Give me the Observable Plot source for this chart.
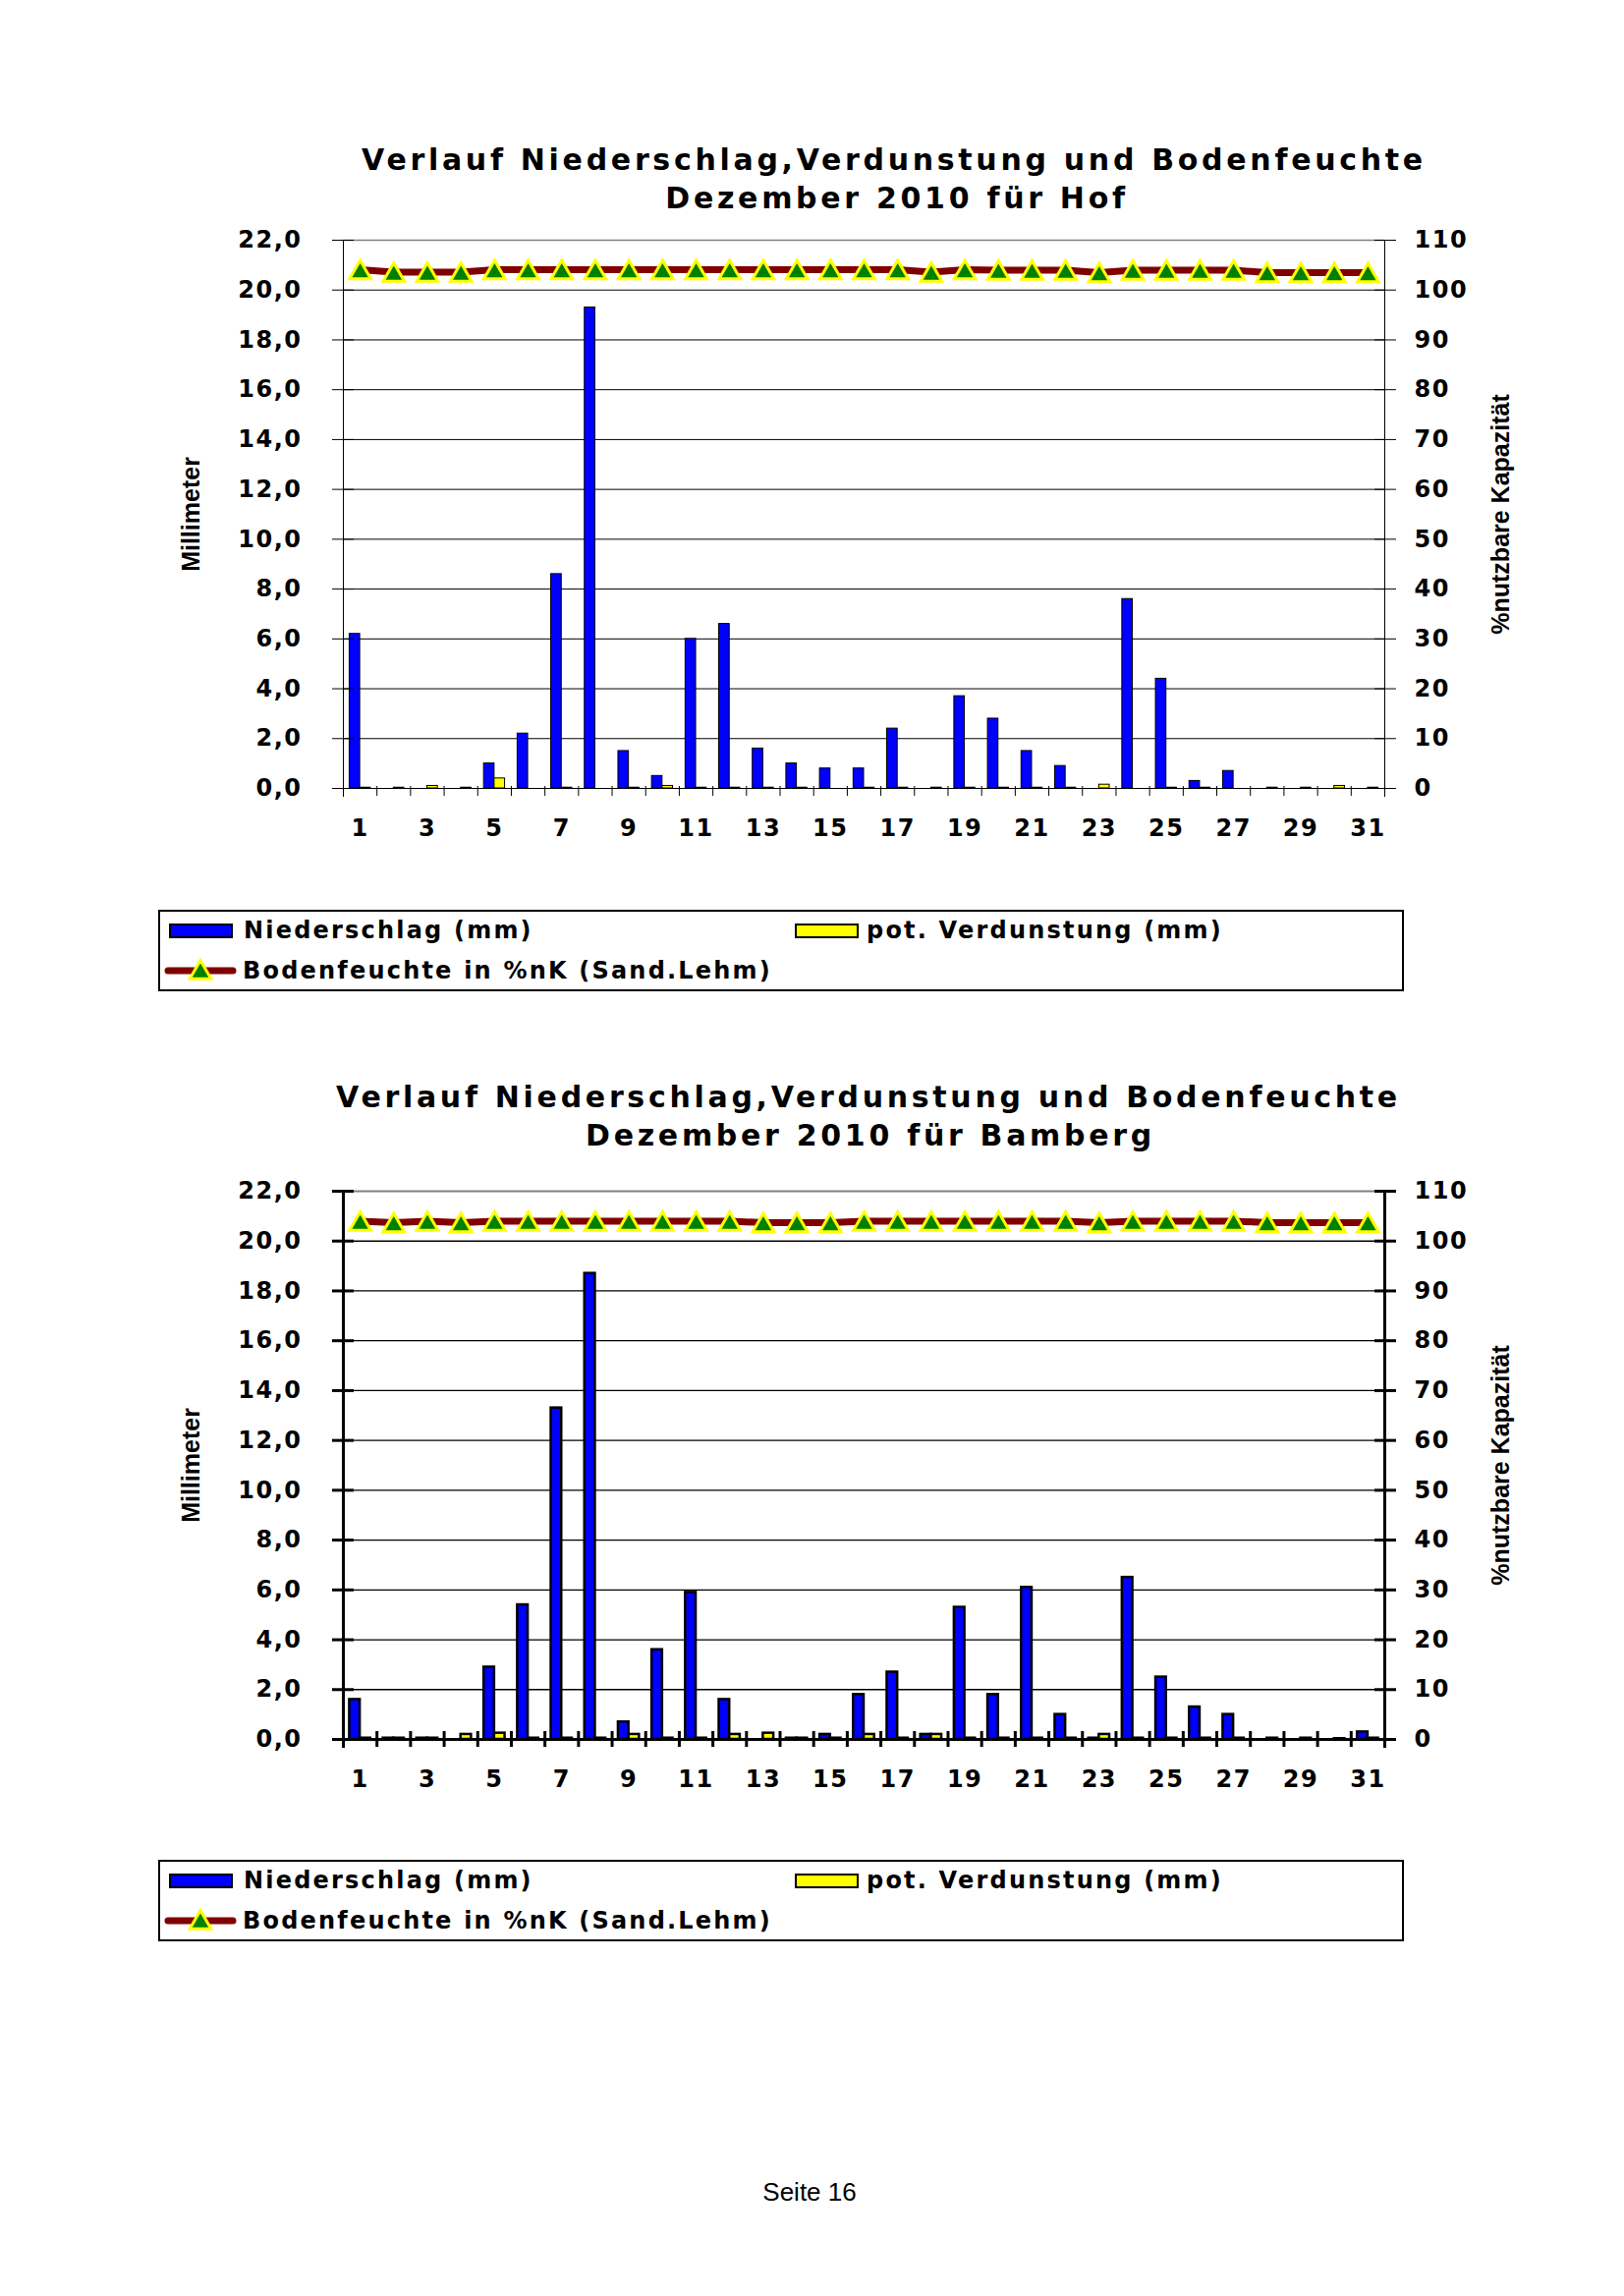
<!DOCTYPE html>
<html>
<head>
<meta charset="utf-8">
<script src="https://cdn.jsdelivr.net/npm/d3@7"></script>
<script src="https://cdn.jsdelivr.net/npm/@observablehq/plot@0.6"></script>
<style>
  html, body { margin: 0; padding: 0; background: #fff; }
  #page { position: relative; width: 1653px; height: 2337px; background: #fff; overflow: hidden; }
  .title { position: absolute; z-index: 2; font-family: "DejaVu Sans", sans-serif; font-weight: bold; font-size: 30px; letter-spacing: 3.7px; white-space: nowrap; transform: translate(-50%, -50%); color: #000; }
  .chart { position: absolute; left: 0; z-index: 1; }
  .legend { position: absolute; left: 161px; width: 1268px; height: 83px; border: 2px solid #000; box-sizing: border-box; background: #fff; }
  .lg-text { position: absolute; height: 30px; line-height: 30px; font-family: "DejaVu Sans", sans-serif; font-weight: bold; font-size: 24px; letter-spacing: 2.2px; white-space: nowrap; color: #000; }
  .lg-swatch { position: absolute; width: 65px; height: 15px; border: 2px solid #000; box-sizing: border-box; }
  .lg-line { position: absolute; }
  #footer { position: absolute; left: 824px; top: 2231px; transform: translate(-50%, -50%); font-family: "Liberation Sans", Arial, sans-serif; font-size: 26px; color: #000; }
  svg g[aria-label$="tick label"] text { letter-spacing: 1.5px; }
</style>
</head>
<body>
<div id="page"></div>
<script>
// ---------------- data ----------------
const days = [1,2,3,4,5,6,7,8,9,10,11,12,13,14,15,16,17,18,19,20,21,22,23,24,25,26,27,28,29,30,31];
const xLabelDays = [1,3,5,7,9,11,13,15,17,19,21,23,25,27,29,31];
const yTicksMm = [0,2,4,6,8,10,12,14,16,18,20,22];
const gridMm = [2,4,6,8,10,12,14,16,18,20];
const seriesNames = ["Niederschlag (mm)", "pot. Verdunstung (mm)", "Bodenfeuchte in %nK (Sand.Lehm)"];
const titleLine1 = "Verlauf Niederschlag,Verdunstung und Bodenfeuchte";
const titleHof = "Dezember 2010 für Hof";
const titleBamberg = "Dezember 2010 für Bamberg";
const leftAxisTitle = "Millimeter";
const rightAxisTitle = "%nutzbare Kapazität";
const footerText = "Seite 16";

// Hof
const hofNiederschlag = [6.2,0,0,0,1.0,2.2,8.6,19.3,1.5,0.5,6.0,6.6,1.6,1.0,0.8,0.8,2.4,0,3.7,2.8,1.5,0.9,0,7.6,4.4,0.3,0.7,0,0,0,0];
const hofVerdunstung = [0.03,0.03,0.1,0.03,0.4,0,0.03,0,0.03,0.1,0.03,0.03,0.03,0.03,0,0.03,0.03,0.03,0.03,0.03,0.03,0.03,0.15,0,0.03,0.03,0,0.03,0.03,0.1,0.03];
const hofBodenfeuchte = [104.1,103.6,103.6,103.6,104.1,104.1,104.1,104.1,104.1,104.1,104.1,104.1,104.1,104.1,104.1,104.1,104.1,103.6,104.1,104.0,104.0,104.0,103.5,104.0,104.0,104.0,104.0,103.5,103.5,103.5,103.5];

// Bamberg
const bambergNiederschlag = [1.6,0.05,0.05,0,2.9,5.4,13.3,18.7,0.7,3.6,5.9,1.6,0,0.05,0.2,1.8,2.7,0.2,5.3,1.8,6.1,1.0,0.05,6.5,2.5,1.3,1.0,0,0,0,0.3];
const bambergVerdunstung = [0.05,0.05,0.05,0.2,0.25,0.05,0.05,0.05,0.2,0.05,0.05,0.2,0.25,0.05,0.05,0.2,0.05,0.2,0.05,0.05,0.05,0.05,0.2,0.05,0.05,0.05,0.05,0.05,0.05,0.03,0.05];
const bambergBodenfeuchte = [104.0,103.7,104.0,103.7,104.0,104.0,104.0,104.0,104.0,104.0,104.0,104.0,103.7,103.7,103.7,104.0,104.0,104.0,104.0,104.0,104.0,104.0,103.7,104.0,104.0,104.0,104.0,103.7,103.7,103.7,103.7];

const colors = {prec: "#0000ff", verd: "#ffff00", line: "#800000", marker: "#008000", markerStroke: "#ffff00"};

// ---------------- page ----------------
const page = document.getElementById("page");

function addDiv(cls, text, style) {
  const el = document.createElement("div");
  el.className = cls;
  if (text != null) el.textContent = text;
  Object.assign(el.style, style || {});
  page.appendChild(el);
  return el;
}

function makeChart(prec, verd, soil, bold) {
  const data = days.map((d, i) => ({day: d, prec: prec[i], verd: verd[i], soil: soil[i]}));
  const W = 1653, ml = 349, mr = 244, H = 672, mt = 44, mb = 70;
  const bw = (W - ml - mr) / days.length;
  const half = bw / 2;
  const sw = bold ? 2.5 : 1;
  const aw = bold ? 3 : 1;
  const boundaries = days.map(d => d + 0.5);
  const marks = [
    Plot.ruleY(gridMm, {stroke: "#000", strokeWidth: bold ? 1.3 : 1}),
    Plot.ruleY([22], {stroke: "#808080", strokeWidth: bold ? 2 : 1.3}),
    Plot.rect(data, {x1: d => d.day - 0.5, x2: d => d.day + 0.5, y1: 0, y2: d => d.prec,
      fill: colors.prec, stroke: "#000", strokeWidth: sw, insetLeft: 6.4, insetRight: half}),
    Plot.rect(data, {x1: d => d.day - 0.5, x2: d => d.day + 0.5, y1: 0, y2: d => d.verd,
      fill: colors.verd, stroke: "#000", strokeWidth: sw, insetLeft: half, insetRight: 6.4}),
    Plot.ruleY([0], {stroke: "#000", strokeWidth: aw}),
    Plot.ruleX([0.5, 31.5], {stroke: "#000", strokeWidth: aw, insetBottom: -9}),
    // axes
    Plot.axisY({anchor: "left", ticks: yTicksMm, tickSize: 11, tickPadding: 31, strokeWidth: aw,
      tickFormat: d => d.toFixed(1).replace(".", ","), label: null}),
    Plot.axisY({anchor: "left", ticks: yTicksMm, tickSize: -11, strokeWidth: aw, tickFormat: () => "", label: null}),
    Plot.axisY({anchor: "right", ticks: yTicksMm, tickSize: 11, tickPadding: 19, strokeWidth: aw,
      tickFormat: d => String(d * 5), label: null}),
    Plot.axisY({anchor: "right", ticks: yTicksMm, tickSize: -11, strokeWidth: aw, tickFormat: () => "", label: null}),
    Plot.axisX({ticks: boundaries, tickSize: 8, strokeWidth: aw, tickFormat: () => "", label: null}),
    Plot.axisX({ticks: boundaries, tickSize: bold ? -8 : -2, strokeWidth: aw, tickFormat: () => "", label: null}),
    Plot.axisX({ticks: xLabelDays, tickSize: 0, tickPadding: 31, tickFormat: d => String(d), label: null}),
    // soil moisture on the right (percent) axis: 5 % per mm
    Plot.line(data, {x: "day", y: d => d.soil / 5, stroke: colors.line, strokeWidth: 7}),
    Plot.dot(data, {x: "day", y: d => d.soil / 5, symbol: "triangle", r: 8, dy: 3,
      fill: colors.marker, stroke: colors.markerStroke, strokeWidth: 3}),
    Plot.text([leftAxisTitle], {frameAnchor: "left", textAnchor: "middle", dx: -155, rotate: -90, fontSize: 25,
      fontFamily: "Liberation Sans, Arial, sans-serif", fontWeight: "bold"}),
    Plot.text([rightAxisTitle], {frameAnchor: "right", textAnchor: "middle", dx: 118, rotate: -90, fontSize: 25,
      fontFamily: "Liberation Sans, Arial, sans-serif", fontWeight: "bold"})
  ];
  return Plot.plot({
    width: W, height: H, marginLeft: ml, marginRight: mr, marginTop: mt, marginBottom: mb,
    x: {type: "linear", domain: [0.5, 31.5], axis: null},
    y: {type: "linear", domain: [0, 22], axis: null},
    style: {fontFamily: "DejaVu Sans, sans-serif", fontSize: "24px", fontWeight: "bold",
      background: "transparent", color: "#000", overflow: "visible"},
    marks
  });
}

function lineSwatch() {
  const ns = "http://www.w3.org/2000/svg";
  const svg = document.createElementNS(ns, "svg");
  svg.setAttribute("width", 74); svg.setAttribute("height", 30);
  const l = document.createElementNS(ns, "line");
  l.setAttribute("x1", 4); l.setAttribute("x2", 70); l.setAttribute("y1", 15); l.setAttribute("y2", 15);
  l.setAttribute("stroke", colors.line); l.setAttribute("stroke-width", 7); l.setAttribute("stroke-linecap", "round");
  svg.appendChild(l);
  const p = document.createElementNS(ns, "path");
  p.setAttribute("d", d3.symbol(d3.symbolTriangle, Math.PI * 8 * 8)());
  p.setAttribute("transform", "translate(37,17)");
  p.setAttribute("fill", colors.marker); p.setAttribute("stroke", colors.markerStroke); p.setAttribute("stroke-width", 3);
  svg.appendChild(p);
  return svg;
}

function addLegend(top) {
  const box = addDiv("legend", null, {top: top + "px"});
  const items = [
    {type: "rect", color: colors.prec, sx: 9, tx: 85, row: 0, name: seriesNames[0]},
    {type: "rect", color: colors.verd, sx: 646, tx: 719, row: 0, name: seriesNames[1]},
    {type: "line", sx: 4, tx: 84, row: 1, name: seriesNames[2]}
  ];
  for (const it of items) {
    const cy = it.row === 0 ? 19 : 60;
    if (it.type === "rect") {
      const s = document.createElement("div");
      s.className = "lg-swatch";
      Object.assign(s.style, {left: it.sx + "px", top: (cy - 7.5) + "px", background: it.color});
      box.appendChild(s);
    } else {
      const s = lineSwatch();
      s.setAttribute("class", "lg-line");
      Object.assign(s.style, {left: it.sx + "px", top: (cy - 15) + "px"});
      box.appendChild(s);
    }
    const t = document.createElement("div");
    t.className = "lg-text";
    t.textContent = it.name;
    Object.assign(t.style, {left: it.tx + "px", top: (cy - 15) + "px"});
    box.appendChild(t);
  }
}

// Chart 1: Hof
const c1 = makeChart(hofNiederschlag, hofVerdunstung, hofBodenfeuchte, false);
c1.classList.add("chart"); c1.style.position = "absolute"; c1.style.top = "200px"; c1.style.left = "0px";
page.appendChild(c1);
addDiv("title", titleLine1, {left: "910px", top: "162px"});
addDiv("title", titleHof, {left: "913px", top: "201px"});
addLegend(926);

// Chart 2: Bamberg
const c2 = makeChart(bambergNiederschlag, bambergVerdunstung, bambergBodenfeuchte, true);
c2.classList.add("chart"); c2.style.position = "absolute"; c2.style.top = "1168px"; c2.style.left = "0px";
page.appendChild(c2);
addDiv("title", titleLine1, {left: "884px", top: "1116px"});
addDiv("title", titleBamberg, {left: "886px", top: "1155px"});
addLegend(1893);

addDiv("", footerText, {}).id = "footer";
</script>
</body>
</html>
